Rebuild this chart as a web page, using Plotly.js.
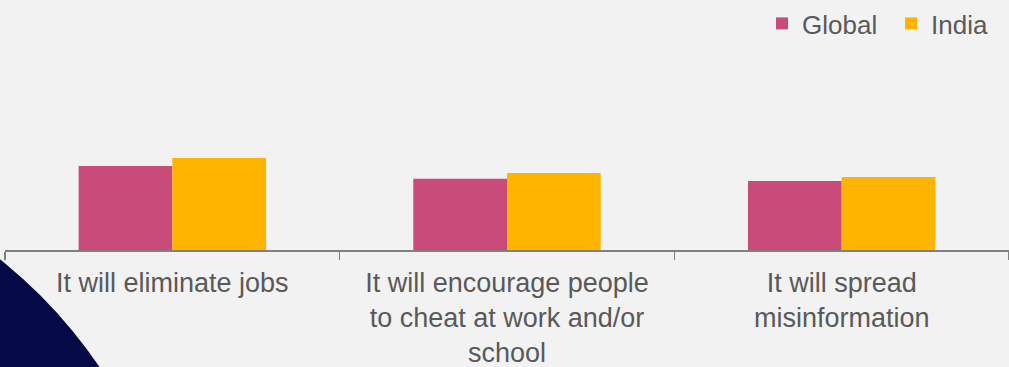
<!DOCTYPE html>
<html>
<head>
<meta charset="utf-8">
<script src="https://cdn.plot.ly/plotly-3.0.1.min.js"></script>
<style>
  html, body { margin: 0; padding: 0; background: #f2f2f2; }
  #chart { width: 1009px; height: 367px; }
</style>
</head>
<body>
<div id="chart"></div>
<script>
const categories = [
  "It will eliminate jobs",
  "It will encourage people<br>to cheat at work and/or<br>school",
  "It will spread<br>misinformation"
];
const globalValues = [36.5, 31, 30];
const indiaValues = [40, 33.5, 31.7];

const W = 1009, H = 367;
const margin = {l: 5, r: 0, t: 20, b: 117, autoexpand: false};
const plotW = W - margin.l - margin.r;
const plotH = H - margin.t - margin.b;
function px2paperX(px) { return (px - margin.l) / plotW; }
function px2paperY(py) { return (H - margin.b - py) / plotH; }

// decorative navy circle in the bottom-left corner (pixel geometry)
const cx = -306, cy = 642, r = 490;

const traces = [
  {type: 'bar', name: 'Global', x: categories, y: globalValues,
   marker: {color: '#c94b7a'}, hoverinfo: 'skip'},
  {type: 'bar', name: 'India', x: categories, y: indiaValues,
   marker: {color: '#ffb400'}, hoverinfo: 'skip'}
];

const layout = {
  width: W, height: H,
  margin: margin,
  paper_bgcolor: '#f2f2f2',
  plot_bgcolor: 'rgba(0,0,0,0)',
  font: {family: 'Liberation Sans, Arial, sans-serif', color: '#595959'},
  barmode: 'group',
  bargap: 0.44,
  bargroupgap: 0,
  showlegend: true,
  legend: {
    orientation: 'h', x: px2paperX(762), xanchor: 'left', y: 1, yref: 'container', yanchor: 'top',
    entrywidth: 84, entrywidthmode: 'pixels',
    font: {size: 26, color: '#595959'}, bgcolor: 'rgba(0,0,0,0)'
  },
  xaxis: {
    type: 'category',
    tickson: 'boundaries',
    ticks: 'outside', ticklen: 8, tickcolor: '#808080', tickwidth: 1.5,
    showline: true, linecolor: '#808080', linewidth: 1.5,
    showgrid: false, zeroline: false,
    tickfont: {size: 27, color: '#595959'},
    ticklabelstandoff: 8,
    fixedrange: true
  },
  yaxis: {
    visible: false, range: [0, 100], fixedrange: true
  },
  shapes: [{
    type: 'circle', layer: 'below',
    xref: 'paper', yref: 'paper',
    x0: px2paperX(cx - r), x1: px2paperX(cx + r),
    y0: px2paperY(cy + r), y1: px2paperY(cy - r),
    fillcolor: '#050a46', line: {width: 0}
  }]
};

Plotly.newPlot('chart', traces, layout, {staticPlot: true, displayModeBar: false});
</script>
</body>
</html>
